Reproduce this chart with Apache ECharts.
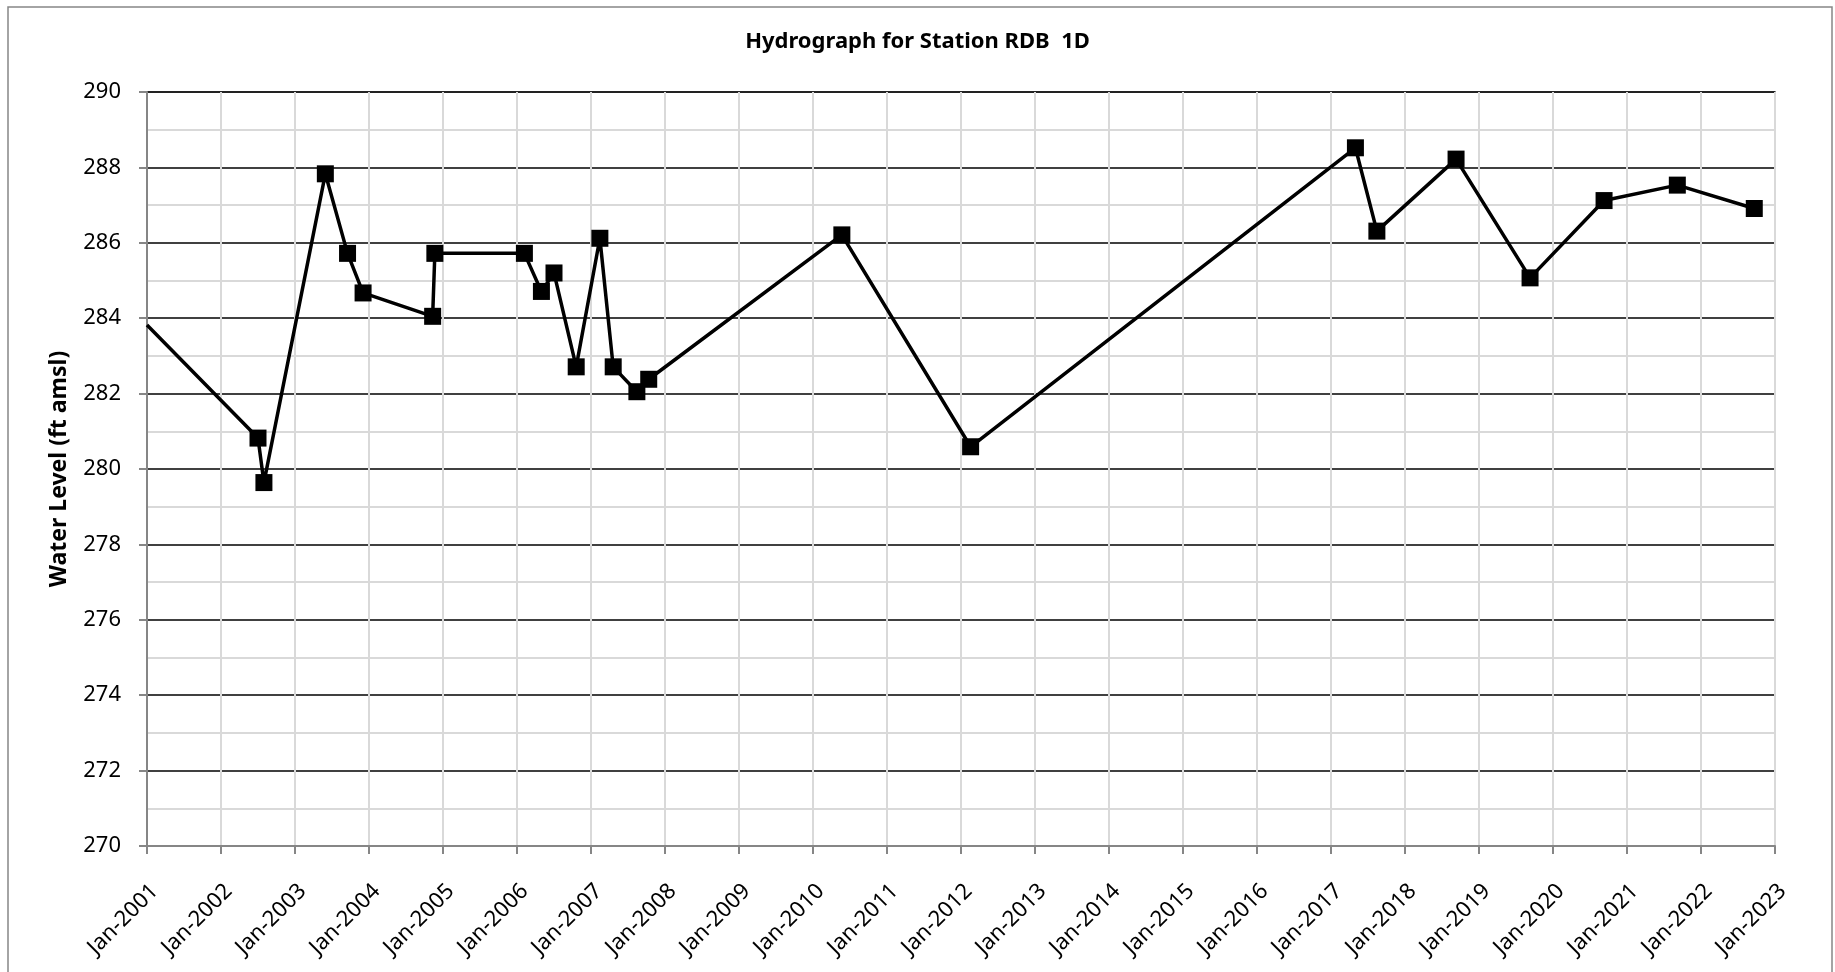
<!DOCTYPE html>
<html>
<head>
<meta charset="utf-8">
<title>Hydrograph for Station RDB 1D</title>
<script src="https://cdn.jsdelivr.net/npm/echarts@6/dist/echarts.min.js"></script>
<style>
  html, body { margin: 0; padding: 0; background: #fff; }
  #chart { width: 1835px; height: 972px; }
</style>
</head>
<body>
<div id="chart"></div>
<script>
// sample dates as decimal years
const sampleYears = [
  2001.00, 2002.50, 2002.58, 2003.41, 2003.71, 2003.92, 2004.86, 2004.89,
  2006.10, 2006.33, 2006.50, 2006.80, 2007.12, 2007.30, 2007.62, 2007.78,
  2010.39, 2012.13, 2017.33, 2017.62, 2018.69, 2019.69, 2020.69, 2021.68,
  2022.72
]
// water level, ft amsl
const waterLevels = [
  283.82, 280.82, 279.64, 287.83, 285.72, 284.67, 284.05, 285.72,
  285.72, 284.71, 285.20, 282.71, 286.12, 282.71, 282.05, 282.38,
  286.21, 280.59, 288.52, 286.31, 288.22, 285.07, 287.12, 287.53,
  286.91
]
// first value sits on the left edge, line comes in from an earlier reading
const hiddenMarkers = [0]

const xMin = 2001
const xMax = 2023
const yMin = 270
const yMax = 290

const fontFamily = '"Noto Sans", "Open Sans", sans-serif'
const axisGray = '#868686'
const lightGrid = '#d9d9d9'

const seriesData = sampleYears.map((yr, i) => {
  const item = { value: [yr, waterLevels[i]] }
  if (hiddenMarkers.includes(i)) item.symbol = 'none'
  return item
})

const myChart = echarts.init(document.getElementById('chart'), null, { renderer: 'canvas' })

const option = {
  backgroundColor: '#fff',
  animation: false,
  title: {
    text: 'Hydrograph for Station RDB  1D',
    left: 'center',
    top: 31,
    padding: 0,
    textStyle: {
      fontFamily: fontFamily,
      fontSize: 22,
      fontWeight: 'bold',
      color: '#000'
    }
  },
  graphic: [
    {
      type: 'rect',
      silent: true,
      shape: { x: 8, y: 7, width: 1824, height: 1000 },
      style: { fill: null, stroke: axisGray, lineWidth: 1.5 }
    }
  ],
  grid: {
    left: 147,
    right: 60,
    top: 92,
    bottom: 126,
    show: true,
    borderColor: axisGray,
    borderWidth: 2,
    backgroundColor: 'transparent'
  },
  xAxis: {
    type: 'value',
    min: xMin,
    max: xMax,
    interval: 1,
    axisLine: { show: true, lineStyle: { color: axisGray, width: 2 } },
    axisTick: { show: true, length: 8, lineStyle: { color: axisGray, width: 2 } },
    axisLabel: {
      rotate: 45,
      margin: 34,
      verticalAlign: 'top',
      fontFamily: fontFamily,
      fontSize: 22,
      color: '#000',
      formatter: v => 'Jan-' + v
    },
    splitLine: { show: true, lineStyle: { color: lightGrid, width: 2 } }
  },
  yAxis: {
    type: 'value',
    min: yMin,
    max: yMax,
    interval: 2,
    name: 'Water Level (ft amsl)',
    nameLocation: 'middle',
    nameGap: 76,
    nameTextStyle: {
      fontFamily: fontFamily,
      fontSize: 23,
      fontWeight: 'bold',
      color: '#000'
    },
    axisLine: { show: true, lineStyle: { color: axisGray, width: 2 } },
    axisTick: { show: true, length: 8, lineStyle: { color: axisGray, width: 2 } },
    axisLabel: {
      margin: 26,
      fontFamily: fontFamily,
      fontSize: 22,
      color: '#000'
    },
    splitLine: { show: true, lineStyle: { color: '#000', width: 1.5 } },
    minorTick: { show: false, splitNumber: 2 },
    minorSplitLine: { show: true, lineStyle: { color: lightGrid, width: 2 } }
  },
  series: [
    {
      name: 'Water Level',
      type: 'line',
      data: seriesData,
      symbol: 'rect',
      symbolSize: 17,
      lineStyle: { color: '#000', width: 3.5 },
      itemStyle: { color: '#000' },
      z: 5
    }
  ]
}

option && myChart.setOption(option)
</script>
</body>
</html>
